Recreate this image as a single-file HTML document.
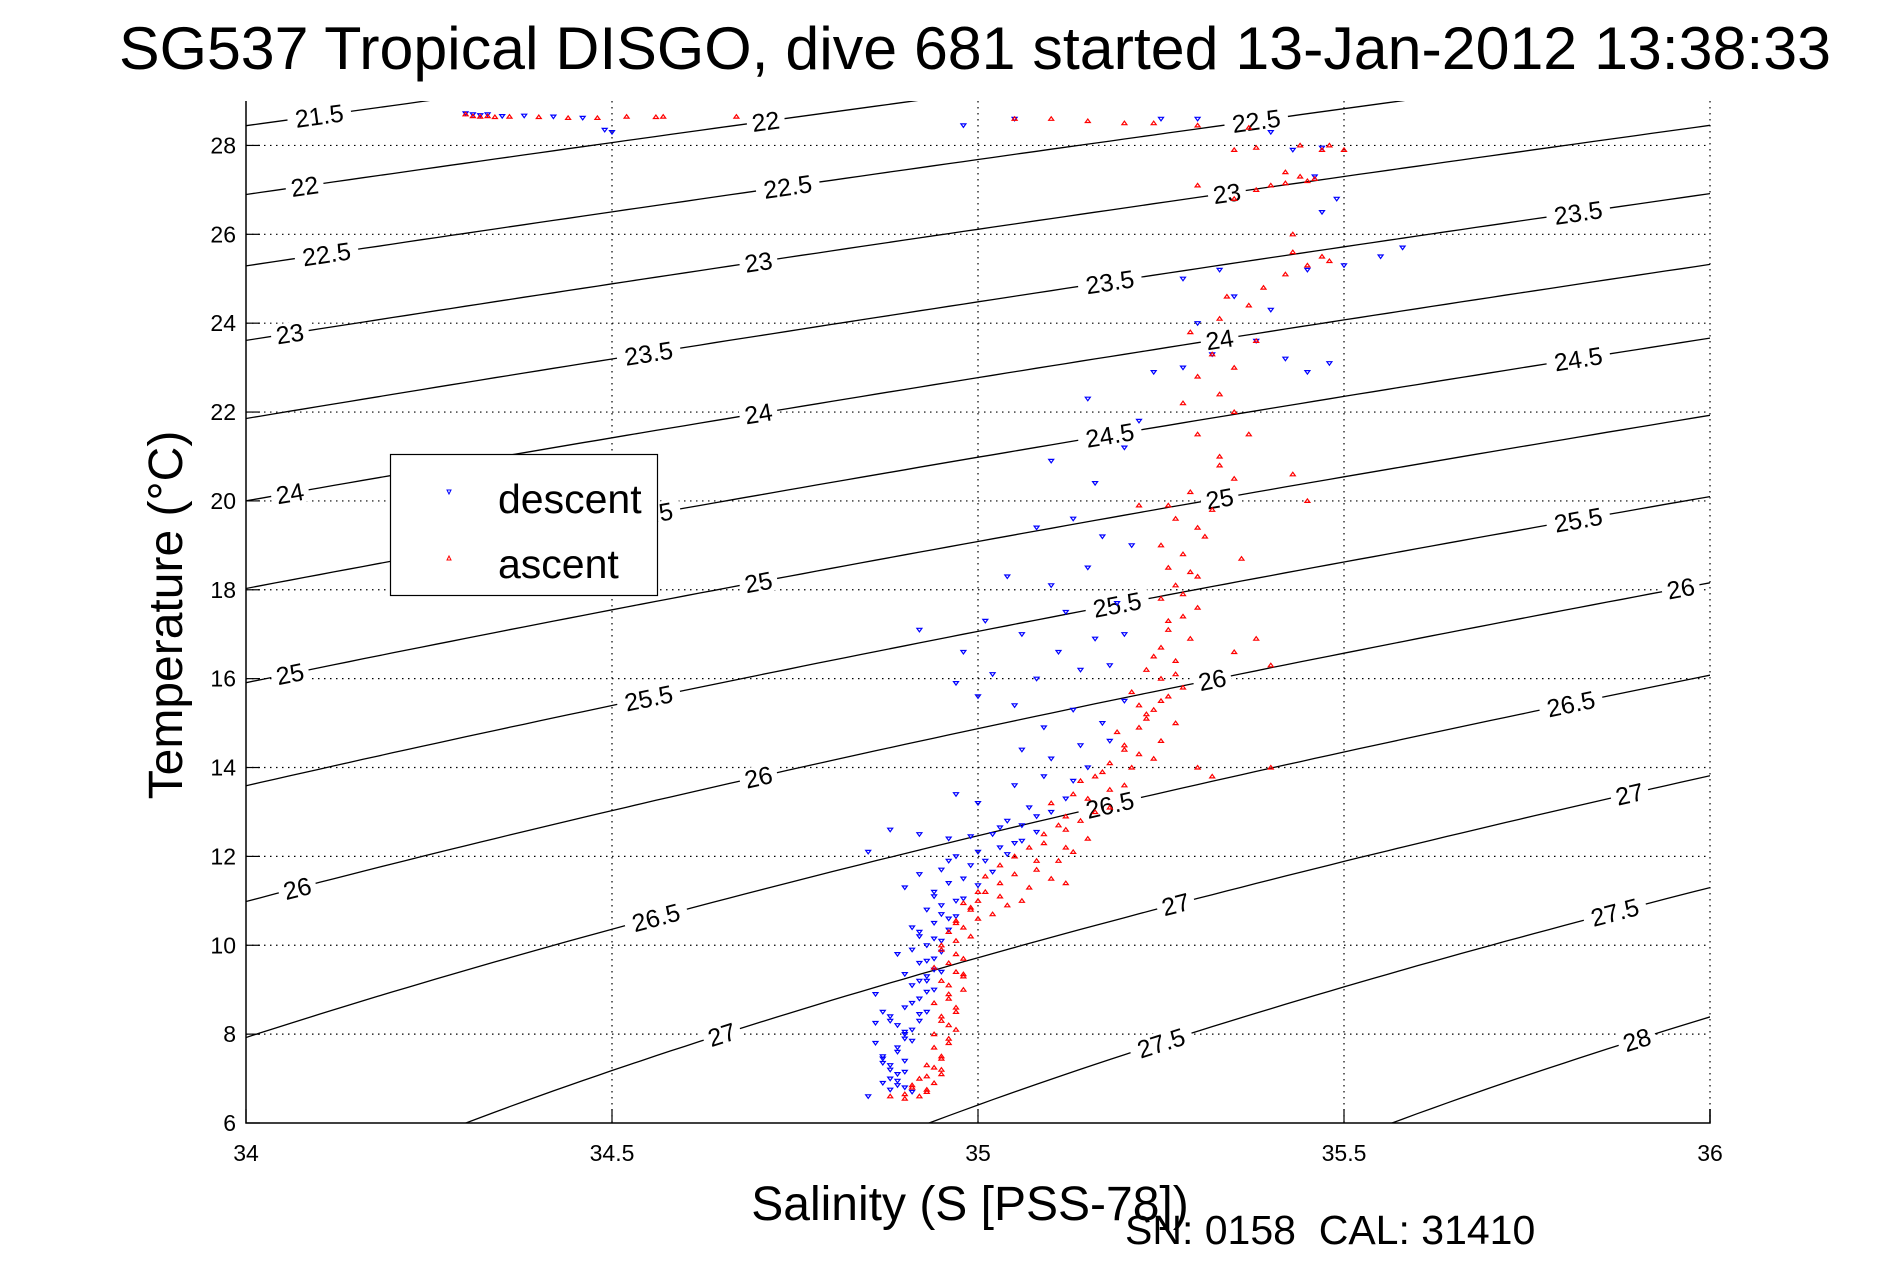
<!DOCTYPE html>
<html><head><meta charset="utf-8"><style>
html,body{margin:0;padding:0;background:#fff;width:1891px;height:1262px;overflow:hidden;}
svg{display:block;font-family:"Liberation Sans",sans-serif;}
</style></head><body>
<svg id="chart" width="1891" height="1262" viewBox="0 0 1891 1262" xmlns="http://www.w3.org/2000/svg">
<rect width="1891" height="1262" fill="#fff"/>
<text x="975" y="69" font-size="60" text-anchor="middle" textLength="1712" lengthAdjust="spacingAndGlyphs">SG537 Tropical DISGO, dive 681 started 13-Jan-2012 13:38:33</text>
<defs><clipPath id="plotclip"><rect x="246" y="101" width="1464" height="1022"/></clipPath></defs>
<g id="grid"></g>
<g id="contours" clip-path="url(#plotclip)"></g>
<g id="clabels"></g>
<g id="points" clip-path="url(#plotclip)"></g>
<g id="axes"></g>
<g>
<rect x="390.5" y="454.5" width="267" height="141" fill="#fff" stroke="#000" stroke-width="1.2"/>
<path d="M447,490 L451,490 L449,494 Z" fill="none" stroke="#00f" stroke-width="1"/>
<text x="498" y="513" font-size="41">descent</text>
<path d="M447,560 L451,560 L449,556 Z" fill="none" stroke="#f00" stroke-width="1"/>
<text x="498" y="578" font-size="41">ascent</text>
</g>
<text transform="translate(182,615) rotate(-90)" font-size="48" text-anchor="middle">Temperature (°C)</text>
<text x="970" y="1220" font-size="48" text-anchor="middle">Salinity (S [PSS-78])</text>
<text x="1125" y="1244" font-size="41" xml:space="preserve">SN: 0158  CAL: 31410</text>
</svg>
<script>
const xTicks=[34,34.5,35,35.5,36];
const xTickLabels=["34","34.5","35","35.5","36"];
const yTicks=[6,8,10,12,14,16,18,20,22,24,26,28];
const yTickLabels=["6","8","10","12","14","16","18","20","22","24","26","28"];
const sigmaLevels=[21.5,22,22.5,23,23.5,24,24.5,25,25.5,26,26.5,27,27.5,28];
const labelSal=[[34.10],[34.08,34.71],[34.11,34.74,35.38],[34.06,34.70,35.34],[34.55,35.18,35.82],[34.06,34.70,35.33],[34.55,35.18,35.82],[34.06,34.70,35.33],[34.55,35.19,35.82],[34.07,34.70,35.32,35.96],[34.56,35.18,35.81],[34.65,35.27,35.89],[35.25,35.87],[35.90]];
const descentS=[34.85,34.87,34.88,34.89,34.9,34.91,34.88,34.87,34.9,34.89,34.86,34.9,34.91,34.89,34.92,34.87,34.9,34.93,34.92,34.94,34.91,34.93,34.95,34.92,34.94,34.91,34.93,34.95,34.92,34.94,34.96,34.93,34.95,34.97,34.94,34.96,34.98,34.95,34.99,35.01,34.97,35.0,35.03,35.05,34.85,34.88,34.92,35.02,35.06,35.04,35.08,35.1,35.07,35.0,35.12,35.05,35.09,35.13,35.15,35.1,35.06,35.14,35.18,35.09,35.17,35.13,35.2,35.05,35.0,34.97,35.02,35.08,35.14,35.18,35.11,35.16,35.2,35.06,34.98,34.92,35.01,35.12,35.19,35.1,35.04,35.15,35.21,35.08,35.13,35.17,35.16,35.1,35.2,35.22,35.15,35.24,35.28,35.32,35.38,35.42,35.45,35.48,35.3,35.35,35.4,35.45,35.5,35.55,35.58,35.33,35.28,35.47,35.49,35.46,35.43,35.47,35.4,35.3,35.25,35.05,34.98,34.5,34.49,34.3,34.31,34.32,34.33,34.35,34.38,34.42,34.46,34.88,34.9,34.86,34.89,34.91,34.9,34.92,34.88,34.93,34.95,34.96,34.97,
34.88,34.89,34.9,34.87,34.89,34.91,34.9,34.88,34.92,34.91,34.93,34.92,34.94,34.93,34.95,34.94,34.96,34.97,34.98,35.0,35.02,35.04,35.06,35.08,35.03,34.99,34.96,34.94,34.92,34.9,34.86,34.87,34.89];
const descentT=[6.6,6.9,7.0,7.1,6.8,6.7,7.3,7.5,7.4,7.7,7.8,7.9,8.1,8.2,8.3,8.5,8.6,8.5,8.8,9.0,9.1,9.3,9.4,9.6,9.7,9.9,10.0,10.1,10.3,10.5,10.6,10.8,10.9,11.0,11.2,11.4,11.5,11.7,11.8,11.9,12.0,12.1,12.2,12.3,12.1,12.6,12.5,12.5,12.7,12.8,12.9,13.0,13.1,13.2,13.3,13.6,13.8,13.7,14.0,14.2,14.4,14.5,14.6,14.9,15.0,15.3,15.5,15.4,15.6,15.9,16.1,16.0,16.2,16.3,16.6,16.9,17.0,17.0,16.6,17.1,17.3,17.5,17.7,18.1,18.3,18.5,19.0,19.4,19.6,19.2,20.4,20.9,21.2,21.8,22.3,22.9,23.0,23.3,23.6,23.2,22.9,23.1,24.0,24.6,24.3,25.2,25.3,25.5,25.7,25.2,25.0,26.5,26.8,27.3,27.9,27.95,28.3,28.6,28.6,28.6,28.45,28.3,28.35,28.72,28.7,28.68,28.7,28.66,28.67,28.65,28.62,7.2,8.0,8.9,9.8,10.4,11.3,11.6,8.4,9.2,10.7,12.4,13.4,
6.75,6.95,7.15,7.35,7.6,7.85,8.05,8.3,8.45,8.7,8.95,9.2,9.45,9.65,9.85,10.15,10.35,10.65,11.05,11.35,11.65,12.05,12.35,12.55,12.65,12.45,11.9,11.1,10.2,9.35,8.25,7.45,6.85];
const ascentS=[34.88,34.9,34.92,34.93,34.91,34.94,34.92,34.95,34.93,34.95,34.94,34.96,34.94,34.96,34.95,34.97,34.94,34.96,34.98,34.95,34.97,34.94,34.96,34.98,34.95,34.97,34.99,34.98,35.0,35.02,35.04,35.06,35.03,35.07,35.1,35.12,35.08,35.11,35.13,35.09,35.12,35.14,35.16,35.12,35.15,35.18,35.2,35.17,35.21,35.24,35.2,35.25,35.22,35.27,35.24,35.22,35.26,35.28,35.25,35.23,35.27,35.25,35.29,35.26,35.28,35.3,35.25,35.27,35.3,35.26,35.28,35.25,35.36,35.35,35.38,35.4,35.3,35.32,35.03,35.05,35.0,35.3,35.27,35.32,35.29,35.26,35.22,35.35,35.33,35.3,35.35,35.28,35.33,35.3,35.35,35.32,35.38,35.29,35.33,35.37,35.34,35.39,35.42,35.45,35.47,35.43,35.48,35.43,35.35,35.38,35.4,35.45,35.42,35.47,35.5,35.44,35.48,35.37,35.3,35.24,35.2,35.15,35.1,35.05,35.3,35.45,35.43,35.37,35.4,34.3,34.31,34.32,34.33,34.34,34.36,34.4,34.44,34.48,34.52,34.57,34.67,34.56,34.93,34.95,34.97,34.96,34.98,34.95,34.97,34.99,35.01,35.05,35.08,35.12,35.15,35.18,35.14,35.22,35.19,35.23,35.21,
34.9,34.91,34.93,34.94,34.95,34.96,34.95,34.97,34.96,34.98,34.97,34.96,34.97,34.99,34.98,35.0,35.01,35.03,35.05,35.07,35.09,35.11,35.1,35.13,35.16,35.18,35.2,35.23,35.25,35.27,35.24,35.26,35.28,35.29,35.31,35.33,35.42,35.44,35.46,35.38,35.35];
const ascentT=[6.6,6.55,6.6,6.7,6.8,6.9,7.0,7.1,7.3,7.5,7.7,7.9,8.0,8.2,8.4,8.5,8.7,8.9,9.0,9.2,9.4,9.5,9.6,9.7,9.9,10.1,10.2,10.4,10.6,10.7,10.9,11.0,11.1,11.3,11.5,11.4,11.7,11.9,12.1,12.3,12.6,12.8,13.0,12.9,13.3,13.5,13.6,13.9,14.0,14.2,14.5,14.6,14.9,15.0,15.3,15.4,15.6,15.8,16.0,16.2,16.4,16.7,16.9,17.1,17.4,17.6,17.8,18.1,18.3,18.5,18.8,19.0,18.7,16.6,16.9,16.3,14.0,13.8,11.4,12.0,11.0,19.4,19.6,19.8,20.2,19.9,19.9,20.5,21.0,21.5,22.0,22.2,22.4,22.8,23.0,23.3,23.6,23.8,24.1,24.4,24.6,24.8,25.1,25.3,25.5,25.6,25.4,26.0,26.8,27.0,27.1,27.2,27.4,27.9,27.9,28.0,28.0,28.4,28.45,28.5,28.5,28.55,28.6,28.6,27.1,20.0,20.6,21.5,14.0,28.7,28.66,28.65,28.66,28.64,28.65,28.64,28.62,28.62,28.65,28.65,28.65,28.64,6.75,7.2,8.1,8.8,9.3,10.0,10.5,10.8,11.2,11.6,11.9,12.2,12.4,13.1,13.7,14.3,14.8,15.2,15.7,
6.65,6.85,7.05,7.25,7.45,7.8,8.3,8.6,9.1,9.35,9.8,10.3,10.55,10.85,10.95,11.2,11.55,11.8,12.0,12.2,12.5,12.7,13.2,13.4,13.8,14.1,14.4,15.1,15.5,16.1,16.5,17.3,17.9,18.4,19.2,20.8,27.15,27.3,27.25,27.95,27.9];

const X0=246,X1=1710,Y0=1123,Y1=101,SMIN=34,SMAX=36,TMIN=6,TMAX=29;
function xs(s){return X0+(s-SMIN)/(SMAX-SMIN)*(X1-X0);}
function ys(t){return Y0-(t-TMIN)/(TMAX-TMIN)*(Y0-Y1);}
function rho(S,T){
 const rw=999.842594+6.793952e-2*T-9.095290e-3*T*T+1.001685e-4*T**3-1.120083e-6*T**4+6.536332e-9*T**5;
 const A=8.24493e-1-4.0899e-3*T+7.6438e-5*T*T-8.2467e-7*T**3+5.3875e-9*T**4;
 const B=-5.72466e-3+1.0227e-4*T-1.6546e-6*T*T;
 return rw+A*S+B*Math.pow(S,1.5)+4.8314e-4*S*S;}
function tFor(S,sig){let lo=-2,hi=45;for(let i=0;i<50;i++){const m=(lo+hi)/2;if(rho(S,m)-1000>sig)lo=m;else hi=m;}return (lo+hi)/2;}
const NS="http://www.w3.org/2000/svg";
function mk(tag,attrs,parent){const e=document.createElementNS(NS,tag);for(const k in attrs)e.setAttribute(k,attrs[k]);parent.appendChild(e);return e;}
const grid=document.getElementById('grid'),axes=document.getElementById('axes');
xTicks.forEach((v,i)=>{
 if(i>0){const g=mk('line',{x1:xs(v),x2:xs(v),y1:Y1,y2:Y0,stroke:'#000','stroke-width':1.2,'stroke-dasharray':'1.5,4.5'},grid);
 
 }
 const tk=mk('line',{x1:xs(v),x2:xs(v),y1:Y0,y2:Y0-14,stroke:'#000','stroke-width':1.2},axes);
 
 
 const t=mk('text',{x:xs(v),y:1161,'font-size':23,'text-anchor':'middle'},axes);t.textContent=xTickLabels[i];
 
 
});
yTicks.forEach((v,i)=>{
 if(i>0){const g=mk('line',{x1:X0,x2:X1,y1:ys(v),y2:ys(v),stroke:'#000','stroke-width':1.2,'stroke-dasharray':'1.5,4.5'},grid);
 
 }
 const tk=mk('line',{x1:X0,x2:X0+14,y1:ys(v),y2:ys(v),stroke:'#000','stroke-width':1.2},axes);
 
 
 const t=mk('text',{x:236,y:ys(v)+8,'font-size':23,'text-anchor':'end'},axes);t.textContent=yTickLabels[i];
 
 
});
const ax=mk('path',{d:`M${X0},${Y1} L${X0},${Y0} L${X1},${Y0} L${X1},${Y0-14}`,fill:'none',stroke:'#000','stroke-width':1.5},axes);


const cg=document.getElementById('contours'),lg=document.getElementById('clabels');
sigmaLevels.forEach((lev,li)=>{
 let d='';for(let s=33.9;s<=36.1001;s+=0.02){const t=tFor(s,lev);d+=(d?'L':'M')+xs(s).toFixed(1)+','+ys(t).toFixed(1);}
 const p=mk('path',{d:d,fill:'none',stroke:'#000','stroke-width':1.3},cg);
 
 
 labelSal[li].forEach(s=>{
  const t=tFor(s,lev),x=xs(s),y=ys(t);
  const ang=Math.atan2(ys(tFor(s+0.02,lev))-y,xs(s+0.02)-x)*180/Math.PI;
  const txt=String(lev);const w=txt.length*13+12;
  const g=mk('g',{transform:`translate(${x.toFixed(1)},${y.toFixed(1)}) rotate(${ang.toFixed(2)})`},lg);
  
  
  mk('rect',{x:-w/2,y:-11,width:w,height:22,fill:'#fff'},g);
  const tt=mk('text',{x:0,y:9,'font-size':25,'text-anchor':'middle'},g);tt.textContent=txt;
 });
});
const pg=document.getElementById('points');
descentS.forEach((s,i)=>{const x=xs(s),y=ys(descentT[i]);
 const m=mk('path',{d:`M${(x-2.5).toFixed(1)},${(y-1.5).toFixed(1)}h5l-2.5,3.5z`,fill:'none',stroke:'#00f','stroke-width':1.2},pg);
 
 });
ascentS.forEach((s,i)=>{const x=xs(s),y=ys(ascentT[i]);
 const m=mk('path',{d:`M${(x-2.5).toFixed(1)},${(y+1.5).toFixed(1)}h5l-2.5,-3.5z`,fill:'none',stroke:'#f00','stroke-width':1.2},pg);
 
 });
</script>
</body></html>
